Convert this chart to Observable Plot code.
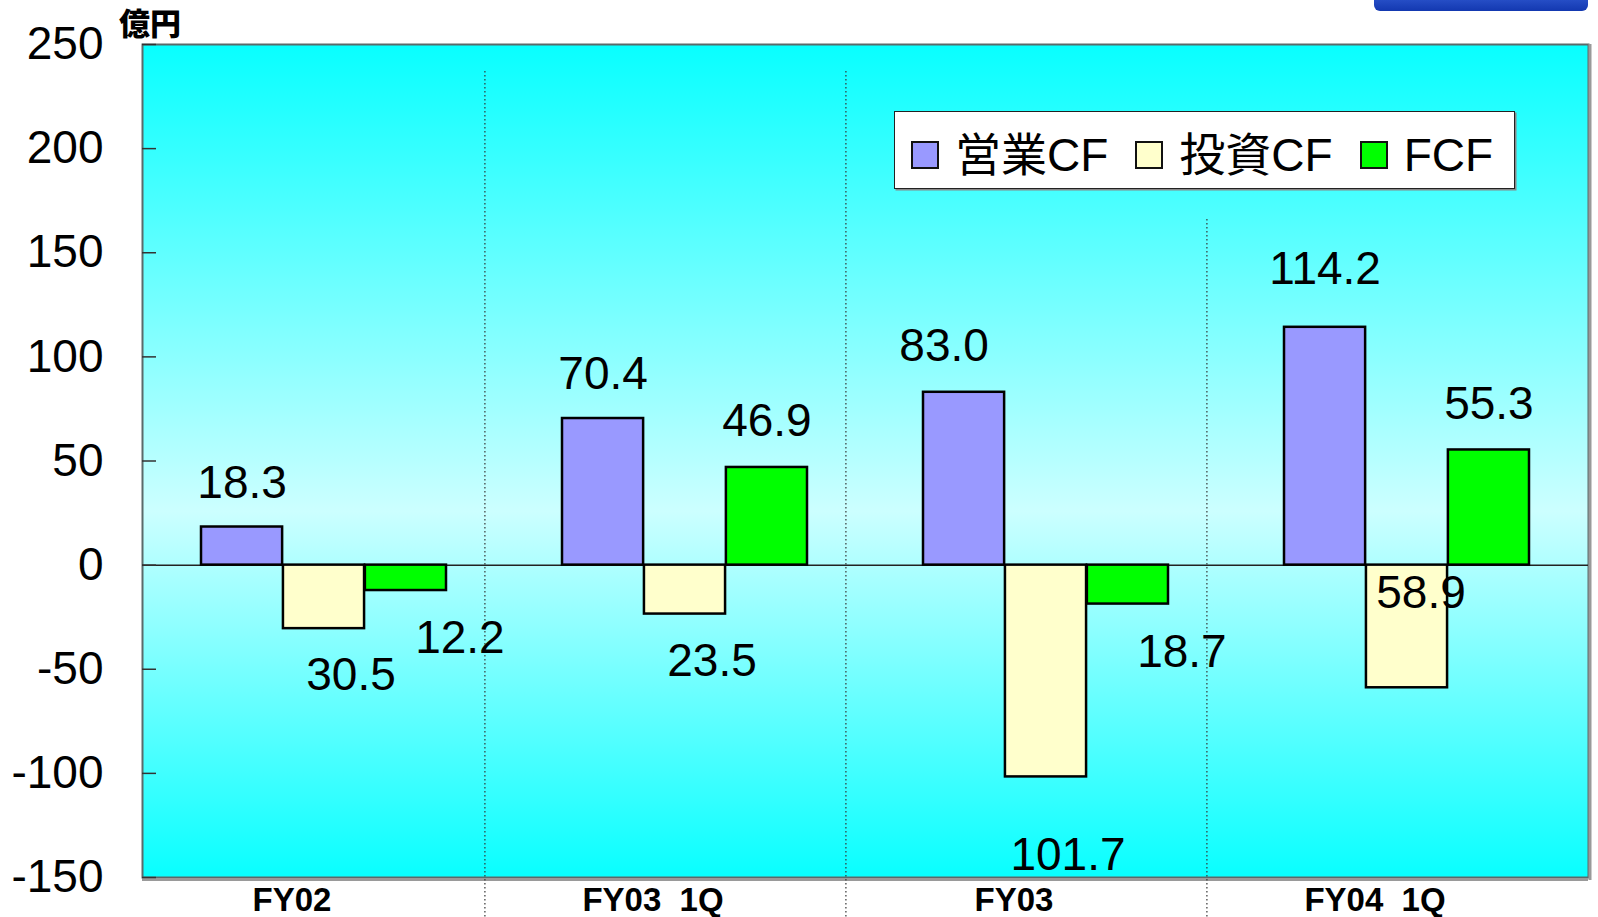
<!DOCTYPE html>
<html><head><meta charset="utf-8">
<script src="https://cdn.jsdelivr.net/npm/d3@7"></script>
<script src="https://cdn.jsdelivr.net/npm/@observablehq/plot@0.6"></script>
<style>
body{margin:0;background:#fff;}
#wrap{position:relative;width:1598px;height:917px;overflow:hidden;font-family:"Liberation Sans",Arial,"Noto Sans CJK JP",sans-serif;}
#wrap svg{position:absolute;left:0;top:0;}
#unit{position:absolute;left:119px;top:1px;font-family:"Noto Sans CJK JP",sans-serif;font-weight:900;font-size:31px;line-height:42px;color:#000;}
#logo{position:absolute;left:1374px;top:-22px;width:214px;height:33px;border-radius:6px;background:linear-gradient(#4a78f0,#1338b0);}
#legend{position:absolute;left:894px;top:111px;width:621px;height:78px;background:#fff;border:1.5px solid #222;box-shadow:1.5px 1.5px 0 #888;box-sizing:border-box;display:flex;align-items:center;padding-left:16px;padding-top:9px;white-space:nowrap;overflow:visible;}
.item{display:flex;align-items:center;margin-right:27px;flex-shrink:0;white-space:nowrap;}
.sw{width:24px;height:24px;border:2.5px solid #111;margin-right:16px;flex-shrink:0;}
.lab{font-size:46px;line-height:1;color:#000;white-space:nowrap;font-family:"Liberation Sans",Arial,"Noto Sans CJK JP",sans-serif;}
</style></head>
<body>
<div id="wrap">
  <div id="chart"></div>
  <div id="unit"></div>
  <div id="logo"></div>
  <div id="legend"></div>
</div>
<script>
const categories = ["FY02", "FY03 1Q", "FY03", "FY04 1Q"];
const seriesNames = ["営業CF", "投資CF", "FCF"];
const operatingCF = [18.3, 70.4, 83.0, 114.2];
const investingCF = [-30.5, -23.5, -101.7, -58.9];
const freeCF = [-12.2, 46.9, -18.7, 55.3];
const yTicks = [-150, -100, -50, 0, 50, 100, 150, 200, 250];
const unitLabel = "億円";
const colors = ["#9999ff", "#ffffcc", "#00ff00"];

const W = 1598, H = 917, mL = 142, mR = 10, mT = 44, mB = 40, pI = 0.32, pO = 0.16;
const step = (W - mL - mR) / (categories.length - pI + 2 * pO);
const bw = step * (1 - pI), third = bw / 3;

const seriesValues = [operatingCF, investingCF, freeCF];
const rows = seriesValues.flatMap((vals, s) => vals.map((v, i) => ({cat: categories[i], series: seriesNames[s], s, value: v})));
const fmt = d => d3.format(".1f")(Math.abs(d.value));
const font = "Liberation Sans, Arial, Noto Sans CJK JP, sans-serif";

const bars = [0, 1, 2].map(s => Plot.barY(rows.filter(d => d.s === s), {
  x: "cat", y: "value", fill: colors[s], stroke: "#000", strokeWidth: 2.5,
  insetLeft: s * third, insetRight: (2 - s) * third
}));

const lab = (data, dx, dy) => Plot.text(data, {x: "cat", y: "value", text: fmt, dx, dy, fontSize: 46, fill: "#000"});
const blue = rows.filter(d => d.s === 0);
const yellow = rows.filter(d => d.s === 1);
const green = rows.filter(d => d.s === 2);

const plot = Plot.plot({
  width: W, height: H,
  marginLeft: mL, marginRight: mR, marginTop: mT, marginBottom: mB,
  style: {fontFamily: font, background: "transparent", overflow: "visible"},
  x: {type: "band", domain: categories, paddingInner: pI, paddingOuter: pO},
  y: {domain: [-150, 250]},
  marks: [
    Plot.frame({fill: "url(#cfbg)", stroke: "#5a6a6a", strokeWidth: 2}),
    Plot.ruleY([-150], {stroke: "#9a9a9a", strokeWidth: 3, dy: 2}),
    Plot.ruleX(categories.slice(0, 2), {x: d => d, dx: bw / 2 + 38, stroke: "#333", strokeWidth: 1.2, strokeDasharray: "1.5,2.5", insetTop: 27, insetBottom: -40}),
    Plot.ruleX(categories.slice(2, 3), {x: d => d, dx: bw / 2 + 38, stroke: "#333", strokeWidth: 1.2, strokeDasharray: "1.5,2.5", insetTop: 175, insetBottom: -40}),
    Plot.ruleY([0], {stroke: "#222", strokeWidth: 1.5}),
    ...bars,
    lab(blue.filter(d => d.cat === "FY02" || d.cat === "FY03 1Q"), -third, -44),
    lab(blue.filter(d => d.cat === "FY03"), -third - 20, -46),
    lab(blue.filter(d => d.cat === "FY04 1Q"), -third, -58),
    lab(yellow.filter(d => d.cat !== "FY03" && d.cat !== "FY04 1Q"), 27, 47),
    lab(yellow.filter(d => d.cat === "FY03"), 22, 78),
    lab(yellow.filter(d => d.cat === "FY04 1Q"), 14, -95),
    lab(green.filter(d => d.value >= 0), third, -46),
    lab(green.filter(d => d.value < 0), third + 54, 48),
    Plot.axisY(yTicks, {anchor: "left", tickSize: -14, tickPadding: 53, fontSize: 46, stroke: "#333", strokeWidth: 1.5, tickFormat: d => String(d), label: null, fill: "#000"}),
    Plot.axisX({anchor: "bottom", tickSize: 0, tickPadding: 10, fontSize: 33, fontWeight: "bold", fontFamily: "Liberation Sans, Arial, sans-serif", dx: -32, label: null, fill: "#000",
      tickFormat: d => d.replace(" ", "\u00a0\u00a0")})
  ]
});

const svg = d3.select(plot);
const defs = svg.insert("defs", ":first-child");
const grad = defs.append("linearGradient").attr("id", "cfbg").attr("x1", 0).attr("y1", 0).attr("x2", 0).attr("y2", 1);
[[0, "#08ffff"], [0.56, "#ccffff"], [1, "#08ffff"]].forEach(([o, c]) => grad.append("stop").attr("offset", o).attr("stop-color", c));
svg.append("line").attr("x1", W - mR + 2).attr("x2", W - mR + 2).attr("y1", mT).attr("y2", H - mB + 3).attr("stroke", "#9a9a9a").attr("stroke-width", 3);

document.getElementById("chart").appendChild(plot);
document.getElementById("unit").textContent = unitLabel;
const legend = d3.select("#legend");
seriesNames.forEach((n, i) => {
  const it = legend.append("div").attr("class", "item");
  it.append("div").attr("class", "sw").style("background", colors[i]);
  it.append("span").attr("class", "lab").text(n);
});
</script>
</body></html>
